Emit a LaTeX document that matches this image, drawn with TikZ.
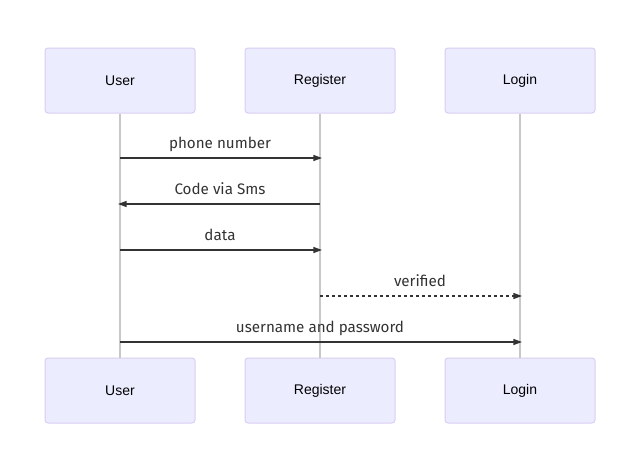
\documentclass[tikz,border=0pt]{standalone}
\usepackage{fontspec}
\setmainfont{Liberation Sans}
\newfontfamily\msgfont{Fira Sans}
\usetikzlibrary{arrows.meta}
\definecolor{actorfill}{HTML}{ECECFF}
\definecolor{actorline}{HTML}{DACDF2}
\definecolor{lifegray}{HTML}{C8C8C8}
\definecolor{msgline}{HTML}{333333}
\tikzset{
	actor/.style={draw=actorline, fill=actorfill, rounded corners=2.25pt, line width=0.75pt,
		minimum width=112.5pt, minimum height=48.75pt, font=\fontsize{10.5}{12}\selectfont, text=black},
	lifeline/.style={draw=lifegray, line width=0.9pt},
	msg/.style={draw=msgline, line width=1.1pt, shorten >=-1.5pt, -{Triangle[length=6.5pt,width=4.5pt]}},
	reply/.style={msg, dash pattern=on 2.25pt off 2.25pt},
	msglabel/.style={midway, anchor=base, yshift=7.5pt, text=msgline, font=\msgfont\fontsize{11.4}{13}\selectfont}
}
\begin{document}
\begin{tikzpicture}[x=0.75pt, y=-0.75pt]
			%%%%% START %%%%%
			\useasboundingbox (0, 0) rectangle (626, 475);
			
			\node[actor] (user) at (120, 80.5) {User};
			\node[actor] (reg) at (320, 80.5) {Register};
			\node[actor] (login) at (520, 80.5) {Login};
			
			\node[actor] (userb) at (120, 390.5) {User};
			\node[actor] (regb) at (320, 390.5) {Register};
			\node[actor] (loginb) at (520, 390.5) {Login};
			
			\draw[lifeline] (user) -- (userb);
			\draw[lifeline] (reg) -- (regb);
			\draw[lifeline] (login) -- (loginb);
			
			\coordinate (r1) at (0, 158);
			\coordinate (r2) at (0, 204);
			\coordinate (r3) at (0, 250);
			\coordinate (r4) at (0, 296);
			\coordinate (r5) at (0, 342);
			
			\draw[msg] (user |- r1) -- (reg |- r1) node[msglabel] {phone number};
			\draw[msg] (reg |- r2) -- (user |- r2) node[msglabel] {Code via Sms};
			\draw[msg] (user |- r3) -- (reg |- r3) node[msglabel] {data};
			\draw[reply] (reg |- r4) -- (login |- r4) node[msglabel] {verified};
			\draw[msg] (user |- r5) -- (login |- r5) node[msglabel] {username and password};
			
			%%%%% END %%%%%
\end{tikzpicture}
\end{document}
